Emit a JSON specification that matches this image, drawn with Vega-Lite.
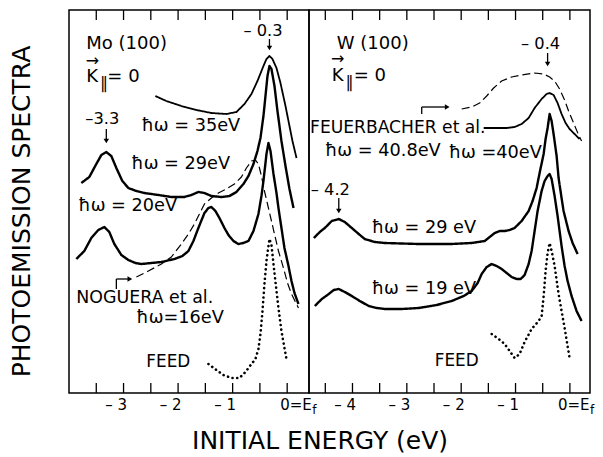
{
  "$schema": "https://vega.github.io/schema/vega-lite/v6.json",
  "background": "white",
  "padding": {"left": 9, "top": 9, "right": 0, "bottom": 0},
  "title": {"text": "INITIAL ENERGY (eV)", "orient": "bottom", "anchor": "middle", "font": "DejaVu Sans", "fontSize": 25, "fontWeight": "normal", "color": "black", "offset": 12, "dx": 18},
  "spacing": 0,
  "bounds": "flush",
  "config": {
    "view": {"stroke": "black", "strokeWidth": 1.5}
  },
  "datasets": {
    "curves": [
      {"p":"Mo","s":"35","k":"thin","e":-2.417,"v":297},{"p":"Mo","s":"35","k":"thin","e":-2.215,"v":292},{"p":"Mo","s":"35","k":"thin","e":-1.939,"v":287},{"p":"Mo","s":"35","k":"thin","e":-1.664,"v":283},{"p":"Mo","s":"35","k":"thin","e":-1.389,"v":280},{"p":"Mo","s":"35","k":"thin","e":-1.114,"v":279},{"p":"Mo","s":"35","k":"thin","e":-0.930,"v":281},{"p":"Mo","s":"35","k":"thin","e":-0.783,"v":289},{"p":"Mo","s":"35","k":"thin","e":-0.655,"v":299},{"p":"Mo","s":"35","k":"thin","e":-0.545,"v":312},{"p":"Mo","s":"35","k":"thin","e":-0.435,"v":327},{"p":"Mo","s":"35","k":"thin","e":-0.380,"v":334},{"p":"Mo","s":"35","k":"thin","e":-0.325,"v":337},{"p":"Mo","s":"35","k":"thin","e":-0.270,"v":334},{"p":"Mo","s":"35","k":"thin","e":-0.196,"v":325},{"p":"Mo","s":"35","k":"thin","e":-0.123,"v":310},{"p":"Mo","s":"35","k":"thin","e":-0.031,"v":287},{"p":"Mo","s":"35","k":"thin","e":0.042,"v":267},{"p":"Mo","s":"35","k":"thin","e":0.097,"v":252},{"p":"Mo","s":"35","k":"thin","e":0.171,"v":235},
      {"p":"Mo","s":"29","k":"thick","e":-3.774,"v":210},{"p":"Mo","s":"29","k":"thick","e":-3.628,"v":216},{"p":"Mo","s":"29","k":"thick","e":-3.499,"v":229},{"p":"Mo","s":"29","k":"thick","e":-3.407,"v":238},{"p":"Mo","s":"29","k":"thick","e":-3.316,"v":241},{"p":"Mo","s":"29","k":"thick","e":-3.224,"v":237},{"p":"Mo","s":"29","k":"thick","e":-3.132,"v":225},{"p":"Mo","s":"29","k":"thick","e":-3.022,"v":212},{"p":"Mo","s":"29","k":"thick","e":-2.912,"v":205},{"p":"Mo","s":"29","k":"thick","e":-2.765,"v":202},{"p":"Mo","s":"29","k":"thick","e":-2.618,"v":200},{"p":"Mo","s":"29","k":"thick","e":-2.361,"v":198},{"p":"Mo","s":"29","k":"thick","e":-2.123,"v":196},{"p":"Mo","s":"29","k":"thick","e":-1.884,"v":196},{"p":"Mo","s":"29","k":"thick","e":-1.756,"v":198},{"p":"Mo","s":"29","k":"thick","e":-1.628,"v":201},{"p":"Mo","s":"29","k":"thick","e":-1.517,"v":200},{"p":"Mo","s":"29","k":"thick","e":-1.389,"v":197},{"p":"Mo","s":"29","k":"thick","e":-1.206,"v":196},{"p":"Mo","s":"29","k":"thick","e":-1.059,"v":197},{"p":"Mo","s":"29","k":"thick","e":-0.930,"v":201},{"p":"Mo","s":"29","k":"thick","e":-0.802,"v":209},{"p":"Mo","s":"29","k":"thick","e":-0.710,"v":217},{"p":"Mo","s":"29","k":"thick","e":-0.618,"v":229},{"p":"Mo","s":"29","k":"thick","e":-0.545,"v":242},{"p":"Mo","s":"29","k":"thick","e":-0.490,"v":255},{"p":"Mo","s":"29","k":"thick","e":-0.435,"v":277},{"p":"Mo","s":"29","k":"thick","e":-0.398,"v":297},{"p":"Mo","s":"29","k":"thick","e":-0.361,"v":317},{"p":"Mo","s":"29","k":"thick","e":-0.325,"v":327},{"p":"Mo","s":"29","k":"thick","e":-0.288,"v":324},{"p":"Mo","s":"29","k":"thick","e":-0.233,"v":307},{"p":"Mo","s":"29","k":"thick","e":-0.178,"v":282},{"p":"Mo","s":"29","k":"thick","e":-0.105,"v":252},{"p":"Mo","s":"29","k":"thick","e":-0.031,"v":227},{"p":"Mo","s":"29","k":"thick","e":0.042,"v":204},{"p":"Mo","s":"29","k":"thick","e":0.116,"v":185},
      {"p":"Mo","s":"20","k":"thick","e":-3.866,"v":134},{"p":"Mo","s":"20","k":"thick","e":-3.719,"v":142},{"p":"Mo","s":"20","k":"thick","e":-3.591,"v":155},{"p":"Mo","s":"20","k":"thick","e":-3.462,"v":163},{"p":"Mo","s":"20","k":"thick","e":-3.352,"v":166},{"p":"Mo","s":"20","k":"thick","e":-3.261,"v":161},{"p":"Mo","s":"20","k":"thick","e":-3.169,"v":149},{"p":"Mo","s":"20","k":"thick","e":-3.040,"v":138},{"p":"Mo","s":"20","k":"thick","e":-2.912,"v":133},{"p":"Mo","s":"20","k":"thick","e":-2.783,"v":130},{"p":"Mo","s":"20","k":"thick","e":-2.673,"v":129},{"p":"Mo","s":"20","k":"thick","e":-2.490,"v":130},{"p":"Mo","s":"20","k":"thick","e":-2.306,"v":131},{"p":"Mo","s":"20","k":"thick","e":-2.068,"v":134},{"p":"Mo","s":"20","k":"thick","e":-1.921,"v":137},{"p":"Mo","s":"20","k":"thick","e":-1.811,"v":142},{"p":"Mo","s":"20","k":"thick","e":-1.719,"v":152},{"p":"Mo","s":"20","k":"thick","e":-1.628,"v":165},{"p":"Mo","s":"20","k":"thick","e":-1.517,"v":180},{"p":"Mo","s":"20","k":"thick","e":-1.444,"v":185},{"p":"Mo","s":"20","k":"thick","e":-1.389,"v":186},{"p":"Mo","s":"20","k":"thick","e":-1.316,"v":182},{"p":"Mo","s":"20","k":"thick","e":-1.242,"v":175},{"p":"Mo","s":"20","k":"thick","e":-1.150,"v":165},{"p":"Mo","s":"20","k":"thick","e":-1.077,"v":158},{"p":"Mo","s":"20","k":"thick","e":-0.985,"v":152},{"p":"Mo","s":"20","k":"thick","e":-0.894,"v":149},{"p":"Mo","s":"20","k":"thick","e":-0.802,"v":150},{"p":"Mo","s":"20","k":"thick","e":-0.710,"v":152},{"p":"Mo","s":"20","k":"thick","e":-0.618,"v":162},{"p":"Mo","s":"20","k":"thick","e":-0.527,"v":179},{"p":"Mo","s":"20","k":"thick","e":-0.472,"v":197},{"p":"Mo","s":"20","k":"thick","e":-0.435,"v":212},{"p":"Mo","s":"20","k":"thick","e":-0.398,"v":230},{"p":"Mo","s":"20","k":"thick","e":-0.380,"v":239},{"p":"Mo","s":"20","k":"thick","e":-0.343,"v":250},{"p":"Mo","s":"20","k":"thick","e":-0.306,"v":242},{"p":"Mo","s":"20","k":"thick","e":-0.251,"v":219},{"p":"Mo","s":"20","k":"thick","e":-0.196,"v":200},{"p":"Mo","s":"20","k":"thick","e":-0.160,"v":185},{"p":"Mo","s":"20","k":"thick","e":-0.105,"v":165},{"p":"Mo","s":"20","k":"thick","e":-0.050,"v":145},{"p":"Mo","s":"20","k":"thick","e":0.024,"v":127},{"p":"Mo","s":"20","k":"thick","e":0.079,"v":112},{"p":"Mo","s":"20","k":"thick","e":0.134,"v":100},{"p":"Mo","s":"20","k":"thick","e":0.207,"v":89},
      {"p":"Mo","s":"16","k":"dashed","e":-2.765,"v":116},{"p":"Mo","s":"16","k":"dashed","e":-2.545,"v":122},{"p":"Mo","s":"16","k":"dashed","e":-2.306,"v":129},{"p":"Mo","s":"16","k":"dashed","e":-2.123,"v":136},{"p":"Mo","s":"16","k":"dashed","e":-1.939,"v":149},{"p":"Mo","s":"16","k":"dashed","e":-1.811,"v":159},{"p":"Mo","s":"16","k":"dashed","e":-1.701,"v":169},{"p":"Mo","s":"16","k":"dashed","e":-1.609,"v":179},{"p":"Mo","s":"16","k":"dashed","e":-1.517,"v":189},{"p":"Mo","s":"16","k":"dashed","e":-1.389,"v":195},{"p":"Mo","s":"16","k":"dashed","e":-1.261,"v":200},{"p":"Mo","s":"16","k":"dashed","e":-1.114,"v":204},{"p":"Mo","s":"16","k":"dashed","e":-0.967,"v":209},{"p":"Mo","s":"16","k":"dashed","e":-0.839,"v":216},{"p":"Mo","s":"16","k":"dashed","e":-0.747,"v":225},{"p":"Mo","s":"16","k":"dashed","e":-0.655,"v":232},{"p":"Mo","s":"16","k":"dashed","e":-0.582,"v":233},{"p":"Mo","s":"16","k":"dashed","e":-0.527,"v":229},{"p":"Mo","s":"16","k":"dashed","e":-0.472,"v":217},{"p":"Mo","s":"16","k":"dashed","e":-0.417,"v":202},{"p":"Mo","s":"16","k":"dashed","e":-0.361,"v":189},{"p":"Mo","s":"16","k":"dashed","e":-0.288,"v":172},{"p":"Mo","s":"16","k":"dashed","e":-0.233,"v":159},{"p":"Mo","s":"16","k":"dashed","e":-0.160,"v":142},{"p":"Mo","s":"16","k":"dashed","e":-0.068,"v":125},{"p":"Mo","s":"16","k":"dashed","e":0.006,"v":110},{"p":"Mo","s":"16","k":"dashed","e":0.079,"v":99},{"p":"Mo","s":"16","k":"dashed","e":0.207,"v":85},
      {"p":"Mo","s":"feed","k":"feed","e":-1.444,"v":29},{"p":"Mo","s":"feed","k":"feed","e":-1.297,"v":23},{"p":"Mo","s":"feed","k":"feed","e":-1.169,"v":18},{"p":"Mo","s":"feed","k":"feed","e":-1.022,"v":15},{"p":"Mo","s":"feed","k":"feed","e":-0.875,"v":15},{"p":"Mo","s":"feed","k":"feed","e":-0.765,"v":21},{"p":"Mo","s":"feed","k":"feed","e":-0.655,"v":29},{"p":"Mo","s":"feed","k":"feed","e":-0.582,"v":34},{"p":"Mo","s":"feed","k":"feed","e":-0.527,"v":44},{"p":"Mo","s":"feed","k":"feed","e":-0.490,"v":59},{"p":"Mo","s":"feed","k":"feed","e":-0.453,"v":82},{"p":"Mo","s":"feed","k":"feed","e":-0.417,"v":109},{"p":"Mo","s":"feed","k":"feed","e":-0.380,"v":132},{"p":"Mo","s":"feed","k":"feed","e":-0.343,"v":147},{"p":"Mo","s":"feed","k":"feed","e":-0.325,"v":154},{"p":"Mo","s":"feed","k":"feed","e":-0.288,"v":148},{"p":"Mo","s":"feed","k":"feed","e":-0.233,"v":120},{"p":"Mo","s":"feed","k":"feed","e":-0.160,"v":85},{"p":"Mo","s":"feed","k":"feed","e":-0.105,"v":62},{"p":"Mo","s":"feed","k":"feed","e":-0.050,"v":45},{"p":"Mo","s":"feed","k":"feed","e":-0.013,"v":34},
      {"p":"W","s":"40.8","k":"dashed","e":-1.991,"v":284},{"p":"W","s":"40.8","k":"dashed","e":-1.807,"v":286},{"p":"W","s":"40.8","k":"dashed","e":-1.660,"v":290},{"p":"W","s":"40.8","k":"dashed","e":-1.531,"v":297},{"p":"W","s":"40.8","k":"dashed","e":-1.403,"v":305},{"p":"W","s":"40.8","k":"dashed","e":-1.256,"v":312},{"p":"W","s":"40.8","k":"dashed","e":-1.072,"v":316},{"p":"W","s":"40.8","k":"dashed","e":-0.888,"v":318},{"p":"W","s":"40.8","k":"dashed","e":-0.649,"v":320},{"p":"W","s":"40.8","k":"dashed","e":-0.483,"v":319},{"p":"W","s":"40.8","k":"dashed","e":-0.373,"v":316},{"p":"W","s":"40.8","k":"dashed","e":-0.281,"v":312},{"p":"W","s":"40.8","k":"dashed","e":-0.189,"v":304},{"p":"W","s":"40.8","k":"dashed","e":-0.097,"v":293},{"p":"W","s":"40.8","k":"dashed","e":-0.024,"v":282},{"p":"W","s":"40.8","k":"dashed","e":0.068,"v":270},{"p":"W","s":"40.8","k":"dashed","e":0.160,"v":258},{"p":"W","s":"40.8","k":"dashed","e":0.215,"v":252},
      {"p":"W","s":"40","k":"thin","e":-1.586,"v":265},{"p":"W","s":"40","k":"thin","e":-1.347,"v":265},{"p":"W","s":"40","k":"thin","e":-1.164,"v":265},{"p":"W","s":"40","k":"thin","e":-1.017,"v":266},{"p":"W","s":"40","k":"thin","e":-0.888,"v":269},{"p":"W","s":"40","k":"thin","e":-0.759,"v":275},{"p":"W","s":"40","k":"thin","e":-0.649,"v":285},{"p":"W","s":"40","k":"thin","e":-0.520,"v":294},{"p":"W","s":"40","k":"thin","e":-0.428,"v":299},{"p":"W","s":"40","k":"thin","e":-0.373,"v":300},{"p":"W","s":"40","k":"thin","e":-0.300,"v":298},{"p":"W","s":"40","k":"thin","e":-0.226,"v":290},{"p":"W","s":"40","k":"thin","e":-0.153,"v":279},{"p":"W","s":"40","k":"thin","e":-0.079,"v":270},{"p":"W","s":"40","k":"thin","e":-0.006,"v":264},{"p":"W","s":"40","k":"thin","e":0.086,"v":259},{"p":"W","s":"40","k":"thin","e":0.178,"v":254},
      {"p":"W","s":"29","k":"thick","e":-4.711,"v":155},{"p":"W","s":"29","k":"thick","e":-4.601,"v":161},{"p":"W","s":"29","k":"thick","e":-4.509,"v":165},{"p":"W","s":"29","k":"thick","e":-4.381,"v":172},{"p":"W","s":"29","k":"thick","e":-4.252,"v":174},{"p":"W","s":"29","k":"thick","e":-4.142,"v":171},{"p":"W","s":"29","k":"thick","e":-4.013,"v":165},{"p":"W","s":"29","k":"thick","e":-3.885,"v":159},{"p":"W","s":"29","k":"thick","e":-3.774,"v":154},{"p":"W","s":"29","k":"thick","e":-3.590,"v":151},{"p":"W","s":"29","k":"thick","e":-3.406,"v":150},{"p":"W","s":"29","k":"thick","e":-2.781,"v":149},{"p":"W","s":"29","k":"thick","e":-2.175,"v":149},{"p":"W","s":"29","k":"thick","e":-1.807,"v":150},{"p":"W","s":"29","k":"thick","e":-1.568,"v":152},{"p":"W","s":"29","k":"thick","e":-1.476,"v":156},{"p":"W","s":"29","k":"thick","e":-1.384,"v":160},{"p":"W","s":"29","k":"thick","e":-1.292,"v":162},{"p":"W","s":"29","k":"thick","e":-1.200,"v":162},{"p":"W","s":"29","k":"thick","e":-1.108,"v":163},{"p":"W","s":"29","k":"thick","e":-1.017,"v":165},{"p":"W","s":"29","k":"thick","e":-0.888,"v":172},{"p":"W","s":"29","k":"thick","e":-0.759,"v":182},{"p":"W","s":"29","k":"thick","e":-0.686,"v":192},{"p":"W","s":"29","k":"thick","e":-0.612,"v":205},{"p":"W","s":"29","k":"thick","e":-0.557,"v":220},{"p":"W","s":"29","k":"thick","e":-0.483,"v":239},{"p":"W","s":"29","k":"thick","e":-0.447,"v":254},{"p":"W","s":"29","k":"thick","e":-0.410,"v":265},{"p":"W","s":"29","k":"thick","e":-0.373,"v":279},{"p":"W","s":"29","k":"thick","e":-0.336,"v":272},{"p":"W","s":"29","k":"thick","e":-0.300,"v":259},{"p":"W","s":"29","k":"thick","e":-0.244,"v":237},{"p":"W","s":"29","k":"thick","e":-0.208,"v":215},{"p":"W","s":"29","k":"thick","e":-0.153,"v":195},{"p":"W","s":"29","k":"thick","e":-0.116,"v":182},{"p":"W","s":"29","k":"thick","e":-0.061,"v":170},{"p":"W","s":"29","k":"thick","e":-0.024,"v":162},{"p":"W","s":"29","k":"thick","e":0.050,"v":150},{"p":"W","s":"29","k":"thick","e":0.142,"v":139},
      {"p":"W","s":"19","k":"thick","e":-4.693,"v":87},{"p":"W","s":"19","k":"thick","e":-4.564,"v":94},{"p":"W","s":"19","k":"thick","e":-4.436,"v":99},{"p":"W","s":"19","k":"thick","e":-4.344,"v":103},{"p":"W","s":"19","k":"thick","e":-4.252,"v":104},{"p":"W","s":"19","k":"thick","e":-4.142,"v":101},{"p":"W","s":"19","k":"thick","e":-4.013,"v":97},{"p":"W","s":"19","k":"thick","e":-3.866,"v":92},{"p":"W","s":"19","k":"thick","e":-3.700,"v":87},{"p":"W","s":"19","k":"thick","e":-3.553,"v":85},{"p":"W","s":"19","k":"thick","e":-3.406,"v":84},{"p":"W","s":"19","k":"thick","e":-3.094,"v":84},{"p":"W","s":"19","k":"thick","e":-2.781,"v":85},{"p":"W","s":"19","k":"thick","e":-2.450,"v":88},{"p":"W","s":"19","k":"thick","e":-2.175,"v":92},{"p":"W","s":"19","k":"thick","e":-1.954,"v":97},{"p":"W","s":"19","k":"thick","e":-1.807,"v":102},{"p":"W","s":"19","k":"thick","e":-1.697,"v":110},{"p":"W","s":"19","k":"thick","e":-1.623,"v":119},{"p":"W","s":"19","k":"thick","e":-1.531,"v":126},{"p":"W","s":"19","k":"thick","e":-1.439,"v":129},{"p":"W","s":"19","k":"thick","e":-1.347,"v":127},{"p":"W","s":"19","k":"thick","e":-1.256,"v":124},{"p":"W","s":"19","k":"thick","e":-1.164,"v":120},{"p":"W","s":"19","k":"thick","e":-1.072,"v":116},{"p":"W","s":"19","k":"thick","e":-0.980,"v":114},{"p":"W","s":"19","k":"thick","e":-0.906,"v":114},{"p":"W","s":"19","k":"thick","e":-0.833,"v":118},{"p":"W","s":"19","k":"thick","e":-0.759,"v":129},{"p":"W","s":"19","k":"thick","e":-0.704,"v":142},{"p":"W","s":"19","k":"thick","e":-0.649,"v":162},{"p":"W","s":"19","k":"thick","e":-0.594,"v":182},{"p":"W","s":"19","k":"thick","e":-0.520,"v":202},{"p":"W","s":"19","k":"thick","e":-0.465,"v":212},{"p":"W","s":"19","k":"thick","e":-0.410,"v":217},{"p":"W","s":"19","k":"thick","e":-0.373,"v":219},{"p":"W","s":"19","k":"thick","e":-0.336,"v":214},{"p":"W","s":"19","k":"thick","e":-0.281,"v":197},{"p":"W","s":"19","k":"thick","e":-0.226,"v":177},{"p":"W","s":"19","k":"thick","e":-0.153,"v":147},{"p":"W","s":"19","k":"thick","e":-0.097,"v":127},{"p":"W","s":"19","k":"thick","e":-0.042,"v":112},{"p":"W","s":"19","k":"thick","e":0.031,"v":97},{"p":"W","s":"19","k":"thick","e":0.123,"v":82},{"p":"W","s":"19","k":"thick","e":0.215,"v":72},
      {"p":"W","s":"feed","k":"feed","e":-1.439,"v":59},{"p":"W","s":"feed","k":"feed","e":-1.311,"v":54},{"p":"W","s":"feed","k":"feed","e":-1.200,"v":49},{"p":"W","s":"feed","k":"feed","e":-1.108,"v":42},{"p":"W","s":"feed","k":"feed","e":-1.017,"v":35},{"p":"W","s":"feed","k":"feed","e":-0.925,"v":39},{"p":"W","s":"feed","k":"feed","e":-0.833,"v":51},{"p":"W","s":"feed","k":"feed","e":-0.704,"v":64},{"p":"W","s":"feed","k":"feed","e":-0.575,"v":72},{"p":"W","s":"feed","k":"feed","e":-0.520,"v":77},{"p":"W","s":"feed","k":"feed","e":-0.483,"v":97},{"p":"W","s":"feed","k":"feed","e":-0.447,"v":122},{"p":"W","s":"feed","k":"feed","e":-0.410,"v":140},{"p":"W","s":"feed","k":"feed","e":-0.373,"v":150},{"p":"W","s":"feed","k":"feed","e":-0.336,"v":142},{"p":"W","s":"feed","k":"feed","e":-0.281,"v":127},{"p":"W","s":"feed","k":"feed","e":-0.208,"v":99},{"p":"W","s":"feed","k":"feed","e":-0.153,"v":82},{"p":"W","s":"feed","k":"feed","e":-0.097,"v":65},{"p":"W","s":"feed","k":"feed","e":-0.006,"v":35}
    ],
    "texts": [
      {"p":"Mo","t":"Mo (100)","r":"name","e":-3.683,"v":349},
      {"p":"Mo","t":"K","r":"name","e":-3.683,"v":316},
      {"p":"Mo","t":"∥","r":"sub","e":-3.43,"v":309},
      {"p":"Mo","t":"= 0","r":"name","e":-3.297,"v":316},
      {"p":"Mo","t":"→","r":"sym","e":-3.572,"v":332},
      {"p":"Mo","t":"– 0.3","r":"peak","e":-0.444,"v":362},
      {"p":"Mo","t":"–3.3","r":"peak","e":-3.389,"v":274},
      {"p":"Mo","t":"ħω = 35eV","r":"energy","e":-2.672,"v":267},
      {"p":"Mo","t":"ħω = 29eV","r":"energy","e":-2.857,"v":229},
      {"p":"Mo","t":"ħω = 20eV","r":"energy","e":-3.829,"v":187},
      {"p":"Mo","t":"NOGUERA et al.","r":"ref","e":-3.866,"v":95},
      {"p":"Mo","t":"ħω=16eV","r":"energy","e":-2.765,"v":75},
      {"p":"Mo","t":"FEED","r":"feed","e":-2.582,"v":31},
      {"p":"W","t":"W (100)","r":"name","e":-4.289,"v":349},
      {"p":"W","t":"K","r":"name","e":-4.381,"v":317},
      {"p":"W","t":"∥","r":"sub","e":-4.13,"v":310},
      {"p":"W","t":"= 0","r":"name","e":-3.976,"v":317},
      {"p":"W","t":"→","r":"sym","e":-4.270,"v":334},
      {"p":"W","t":"– 0.4","r":"peak","e":-0.539,"v":349},
      {"p":"W","t":"– 4.2","r":"peak","e":-4.408,"v":203},
      {"p":"W","t":"FEUERBACHER et al.","r":"ref2","e":-4.781,"v":265},
      {"p":"W","t":"ħω = 40.8eV","r":"energy","e":-4.505,"v":242},
      {"p":"W","t":"ħω =40eV","r":"energy","e":-2.230,"v":240},
      {"p":"W","t":"ħω = 29 eV","r":"energy","e":-3.646,"v":165},
      {"p":"W","t":"ħω = 19 eV","r":"energy","e":-3.646,"v":104},
      {"p":"W","t":"FEED","r":"feed","e":-2.487,"v":32}
    ],
    "segs": [
      {"p":"Mo","e":-0.325,"v":354,"e2":-0.325,"v2":346},
      {"p":"Mo","e":-3.316,"v":264,"e2":-3.316,"v2":253},
      {"p":"Mo","e":-3.132,"v":104,"e2":-3.132,"v2":114},
      {"p":"Mo","e":-3.132,"v":114,"e2":-2.88,"v2":114},
      {"p":"W","e":-0.410,"v":340,"e2":-0.410,"v2":331},
      {"p":"W","e":-4.252,"v":195,"e2":-4.252,"v2":184},
      {"p":"W","e":-2.726,"v":279,"e2":-2.726,"v2":286},
      {"p":"W","e":-2.726,"v":286,"e2":-2.26,"v2":286}
    ],
    "heads": [
      {"p":"Mo","e":-0.325,"v":345,"d":"down"},
      {"p":"Mo","e":-3.316,"v":252,"d":"down"},
      {"p":"Mo","e":-2.884,"v":114,"d":"right"},
      {"p":"W","e":-0.410,"v":329,"d":"down"},
      {"p":"W","e":-4.252,"v":182,"d":"down"},
      {"p":"W","e":-2.257,"v":286,"d":"right"}
    ],
    "tickpos": [
      {"p":"Mo","e":-3.5},{"p":"Mo","e":-3},{"p":"Mo","e":-2.5},{"p":"Mo","e":-2},{"p":"Mo","e":-1.5},{"p":"Mo","e":-1},{"p":"Mo","e":-0.5},{"p":"Mo","e":0},
      {"p":"W","e":-4.5},{"p":"W","e":-4},{"p":"W","e":-3.5},{"p":"W","e":-3},{"p":"W","e":-2.5},{"p":"W","e":-2},{"p":"W","e":-1.5},{"p":"W","e":-1},{"p":"W","e":-0.5},{"p":"W","e":0}
    ],
    "labs": [
      {"p":"Mo","e":-3,"t":"– 3","g":"neg"},{"p":"Mo","e":-2,"t":"– 2","g":"neg"},{"p":"Mo","e":-1,"t":"– 1","g":"neg"},{"p":"Mo","e":0,"t":"0=E","g":"zero"},{"p":"Mo","e":0,"t":"f","g":"sub"},
      {"p":"W","e":-4,"t":"– 4","g":"neg"},{"p":"W","e":-3,"t":"– 3","g":"neg"},{"p":"W","e":-2,"t":"– 2","g":"neg"},{"p":"W","e":-1,"t":"– 1","g":"neg"},{"p":"W","e":0,"t":"0=E","g":"zero"},{"p":"W","e":0,"t":"f","g":"sub"}
    ]
  },
  "hconcat": [
    {
      "width": 240,
      "height": 383,
      "title": {"text": "PHOTOEMISSION SPECTRA", "orient": "left", "anchor": "middle", "font": "DejaVu Sans", "fontSize": 25, "fontWeight": "normal", "color": "black", "offset": 34, "dx": -10},
      "layer": [
        {
          "data": {"name": "curves"},
          "transform": [{"filter": "datum.p === 'Mo' && datum.k !== 'feed'"}],
          "mark": {"type": "line", "color": "black", "strokeJoin": "round"},
          "encoding": {
            "x": {"field": "e", "type": "quantitative", "scale": {"domain": [-4.0, 0.4], "nice": false, "zero": false}, "axis": null},
            "y": {"field": "v", "type": "quantitative", "scale": {"domain": [0, 383], "nice": false, "zero": false}, "axis": null},
            "detail": {"field": "s"},
            "strokeWidth": {"field": "k", "type": "ordinal", "scale": {"domain": ["thick", "thin", "dashed"], "range": [2.4, 1.2, 1.3]}, "legend": null},
            "strokeDash": {"field": "k", "type": "ordinal", "scale": {"domain": ["thick", "thin", "dashed"], "range": [[1, 0], [1, 0], [8, 4]]}, "legend": null}
          }
        },
        {
          "data": {"name": "tickpos"},
          "transform": [{"filter": "datum.p === 'Mo'"}],
          "mark": {"type": "tick", "orient": "vertical", "size": 20, "thickness": 1.3, "color": "black", "opacity": 1, "clip": true},
          "encoding": {
            "x": {"field": "e", "type": "quantitative", "axis": null},
            "y": {"datum": 0, "type": "quantitative", "axis": null}
          }
        },
        {
          "data": {"name": "tickpos"},
          "transform": [{"filter": "datum.p === 'Mo'"}],
          "mark": {"type": "tick", "orient": "vertical", "size": 20, "thickness": 1.3, "color": "black", "opacity": 1, "clip": true},
          "encoding": {
            "x": {"field": "e", "type": "quantitative", "axis": null},
            "y": {"datum": 383, "type": "quantitative", "axis": null}
          }
        },
        {
          "data": {"name": "labs"},
          "transform": [{"filter": "datum.p === 'Mo' && datum.g === 'neg'"}],
          "mark": {"type": "text", "align": "right", "baseline": "top", "dx": 3.5, "dy": 5, "font": "DejaVu Sans", "fontSize": 15, "color": "black"},
          "encoding": {
            "x": {"field": "e", "type": "quantitative", "axis": null},
            "y": {"datum": 0, "type": "quantitative", "axis": null},
            "text": {"field": "t"}
          }
        },
        {
          "data": {"name": "labs"},
          "transform": [{"filter": "datum.p === 'Mo' && datum.g === 'zero'"}],
          "mark": {"type": "text", "align": "left", "baseline": "top", "dx": -7, "dy": 5, "font": "DejaVu Sans", "fontSize": 15, "color": "black"},
          "encoding": {
            "x": {"field": "e", "type": "quantitative", "axis": null},
            "y": {"datum": 0, "type": "quantitative", "axis": null},
            "text": {"field": "t"}
          }
        },
        {
          "data": {"name": "labs"},
          "transform": [{"filter": "datum.p === 'Mo' && datum.g === 'sub'"}],
          "mark": {"type": "text", "align": "left", "baseline": "top", "dx": 25, "dy": 12, "font": "DejaVu Sans", "fontSize": 12, "color": "black"},
          "encoding": {
            "x": {"field": "e", "type": "quantitative", "axis": null},
            "y": {"datum": 0, "type": "quantitative", "axis": null},
            "text": {"field": "t"}
          }
        },
        {
          "data": {"name": "curves"},
          "transform": [{"filter": "datum.p === 'Mo' && datum.k === 'feed'"}],
          "mark": {"type": "line", "color": "black", "strokeWidth": 2.6, "strokeDash": [0.1, 4.6], "strokeCap": "round"},
          "encoding": {
            "x": {"field": "e", "type": "quantitative", "axis": null},
            "y": {"field": "v", "type": "quantitative", "axis": null}
          }
        },
        {
          "data": {"name": "segs"},
          "transform": [{"filter": "datum.p === 'Mo'"}],
          "mark": {"type": "rule", "color": "black", "strokeWidth": 1.3},
          "encoding": {
            "x": {"field": "e", "type": "quantitative", "axis": null},
            "y": {"field": "v", "type": "quantitative", "axis": null},
            "x2": {"field": "e2"},
            "y2": {"field": "v2"}
          }
        },
        {
          "data": {"name": "heads"},
          "transform": [{"filter": "datum.p === 'Mo'"}],
          "mark": {"type": "point", "filled": true, "color": "black", "opacity": 1, "size": 30},
          "encoding": {
            "x": {"field": "e", "type": "quantitative", "axis": null},
            "y": {"field": "v", "type": "quantitative", "axis": null},
            "shape": {"field": "d", "type": "nominal", "scale": {"domain": ["down", "right"], "range": ["triangle-down", "triangle-right"]}, "legend": null}
          }
        },
        {
          "data": {"name": "texts"},
          "transform": [{"filter": "datum.p === 'Mo' && datum.r !== 'peak' && datum.r !== 'sym'"}],
          "mark": {"type": "text", "align": "left", "baseline": "middle", "font": "DejaVu Sans", "color": "black"},
          "encoding": {
            "x": {"field": "e", "type": "quantitative", "axis": null},
            "y": {"field": "v", "type": "quantitative", "axis": null},
            "text": {"field": "t"},
            "size": {"field": "r", "type": "ordinal", "scale": {"domain": ["name", "energy", "ref", "ref2", "feed", "sub", "peak", "sym"], "range": [18, 16, 16, 19, 18, 11, 16, 13]}, "legend": null}
          }
        },
        {
          "data": {"name": "texts"},
          "transform": [{"filter": "datum.p === 'Mo' && (datum.r === 'peak' || datum.r === 'sym')"}],
          "mark": {"type": "text", "align": "center", "baseline": "middle", "font": "DejaVu Sans", "color": "black"},
          "encoding": {
            "x": {"field": "e", "type": "quantitative", "axis": null},
            "y": {"field": "v", "type": "quantitative", "axis": null},
            "text": {"field": "t"},
            "size": {"field": "r", "type": "ordinal", "scale": {"domain": ["name", "energy", "ref", "ref2", "feed", "sub", "peak", "sym"], "range": [18, 16, 16, 19, 18, 11, 16, 13]}, "legend": null}
          }
        }
      ]
    },
    {
      "width": 281,
      "height": 383,
      "layer": [
        {
          "data": {"name": "curves"},
          "transform": [{"filter": "datum.p === 'W' && datum.k !== 'feed'"}],
          "mark": {"type": "line", "color": "black", "strokeJoin": "round"},
          "encoding": {
            "x": {"field": "e", "type": "quantitative", "scale": {"domain": [-4.8, 0.37], "nice": false, "zero": false}, "axis": null},
            "y": {"field": "v", "type": "quantitative", "scale": {"domain": [0, 383], "nice": false, "zero": false}, "axis": null},
            "detail": {"field": "s"},
            "strokeWidth": {"field": "k", "type": "ordinal", "scale": {"domain": ["thick", "thin", "dashed"], "range": [2.4, 1.2, 1.3]}, "legend": null},
            "strokeDash": {"field": "k", "type": "ordinal", "scale": {"domain": ["thick", "thin", "dashed"], "range": [[1, 0], [1, 0], [9, 4]]}, "legend": null}
          }
        },
        {
          "data": {"name": "tickpos"},
          "transform": [{"filter": "datum.p === 'W'"}],
          "mark": {"type": "tick", "orient": "vertical", "size": 20, "thickness": 1.3, "color": "black", "opacity": 1, "clip": true},
          "encoding": {
            "x": {"field": "e", "type": "quantitative", "axis": null},
            "y": {"datum": 0, "type": "quantitative", "axis": null}
          }
        },
        {
          "data": {"name": "tickpos"},
          "transform": [{"filter": "datum.p === 'W'"}],
          "mark": {"type": "tick", "orient": "vertical", "size": 20, "thickness": 1.3, "color": "black", "opacity": 1, "clip": true},
          "encoding": {
            "x": {"field": "e", "type": "quantitative", "axis": null},
            "y": {"datum": 383, "type": "quantitative", "axis": null}
          }
        },
        {
          "data": {"name": "labs"},
          "transform": [{"filter": "datum.p === 'W' && datum.g === 'neg'"}],
          "mark": {"type": "text", "align": "right", "baseline": "top", "dx": 3.5, "dy": 5, "font": "DejaVu Sans", "fontSize": 15, "color": "black"},
          "encoding": {
            "x": {"field": "e", "type": "quantitative", "axis": null},
            "y": {"datum": 0, "type": "quantitative", "axis": null},
            "text": {"field": "t"}
          }
        },
        {
          "data": {"name": "labs"},
          "transform": [{"filter": "datum.p === 'W' && datum.g === 'zero'"}],
          "mark": {"type": "text", "align": "left", "baseline": "top", "dx": -12, "dy": 5, "font": "DejaVu Sans", "fontSize": 15, "color": "black"},
          "encoding": {
            "x": {"field": "e", "type": "quantitative", "axis": null},
            "y": {"datum": 0, "type": "quantitative", "axis": null},
            "text": {"field": "t"}
          }
        },
        {
          "data": {"name": "labs"},
          "transform": [{"filter": "datum.p === 'W' && datum.g === 'sub'"}],
          "mark": {"type": "text", "align": "left", "baseline": "top", "dx": 20, "dy": 12, "font": "DejaVu Sans", "fontSize": 12, "color": "black"},
          "encoding": {
            "x": {"field": "e", "type": "quantitative", "axis": null},
            "y": {"datum": 0, "type": "quantitative", "axis": null},
            "text": {"field": "t"}
          }
        },
        {
          "data": {"name": "curves"},
          "transform": [{"filter": "datum.p === 'W' && datum.k === 'feed'"}],
          "mark": {"type": "line", "color": "black", "strokeWidth": 2.6, "strokeDash": [0.1, 4.6], "strokeCap": "round"},
          "encoding": {
            "x": {"field": "e", "type": "quantitative", "axis": null},
            "y": {"field": "v", "type": "quantitative", "axis": null}
          }
        },
        {
          "data": {"name": "segs"},
          "transform": [{"filter": "datum.p === 'W'"}],
          "mark": {"type": "rule", "color": "black", "strokeWidth": 1.3},
          "encoding": {
            "x": {"field": "e", "type": "quantitative", "axis": null},
            "y": {"field": "v", "type": "quantitative", "axis": null},
            "x2": {"field": "e2"},
            "y2": {"field": "v2"}
          }
        },
        {
          "data": {"name": "heads"},
          "transform": [{"filter": "datum.p === 'W'"}],
          "mark": {"type": "point", "filled": true, "color": "black", "opacity": 1, "size": 30},
          "encoding": {
            "x": {"field": "e", "type": "quantitative", "axis": null},
            "y": {"field": "v", "type": "quantitative", "axis": null},
            "shape": {"field": "d", "type": "nominal", "scale": {"domain": ["down", "right"], "range": ["triangle-down", "triangle-right"]}, "legend": null}
          }
        },
        {
          "data": {"name": "texts"},
          "transform": [{"filter": "datum.p === 'W' && datum.r !== 'peak' && datum.r !== 'sym'"}],
          "mark": {"type": "text", "align": "left", "baseline": "middle", "font": "DejaVu Sans", "color": "black"},
          "encoding": {
            "x": {"field": "e", "type": "quantitative", "axis": null},
            "y": {"field": "v", "type": "quantitative", "axis": null},
            "text": {"field": "t"},
            "size": {"field": "r", "type": "ordinal", "scale": {"domain": ["name", "energy", "ref", "ref2", "feed", "sub", "peak", "sym"], "range": [18, 16, 16, 19, 18, 11, 16, 13]}, "legend": null}
          }
        },
        {
          "data": {"name": "texts"},
          "transform": [{"filter": "datum.p === 'W' && (datum.r === 'peak' || datum.r === 'sym')"}],
          "mark": {"type": "text", "align": "center", "baseline": "middle", "font": "DejaVu Sans", "color": "black"},
          "encoding": {
            "x": {"field": "e", "type": "quantitative", "axis": null},
            "y": {"field": "v", "type": "quantitative", "axis": null},
            "text": {"field": "t"},
            "size": {"field": "r", "type": "ordinal", "scale": {"domain": ["name", "energy", "ref", "ref2", "feed", "sub", "peak", "sym"], "range": [18, 16, 16, 19, 18, 11, 16, 13]}, "legend": null}
          }
        }
      ]
    }
  ]
}
